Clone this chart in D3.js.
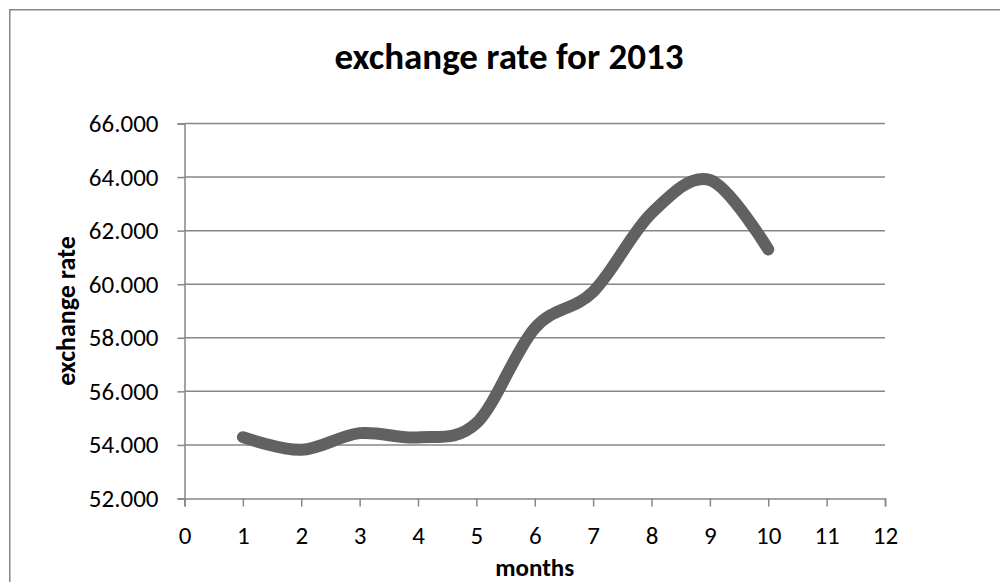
<!DOCTYPE html>
<html>
<head>
<meta charset="utf-8">
<script src="https://cdn.jsdelivr.net/npm/d3@7"></script>
<style>
  html, body { margin: 0; padding: 0; background: #fff; }
  svg { display: block; }
  text { font-family: Carlito, Calibri, Lato, "Open Sans", sans-serif; fill: #000; }
</style>
</head>
<body>
<svg id="chart" width="1000" height="582"></svg>
<script>
// Monthly exchange rate, 2013
const months = [1, 2, 3, 4, 5, 6, 7, 8, 9, 10];
const rates = [54.29, 53.82, 54.44, 54.28, 54.81, 58.36, 59.72, 62.65, 63.89, 61.30];
const xTicks = [0, 1, 2, 3, 4, 5, 6, 7, 8, 9, 10, 11, 12];
const yTicks = [52, 54, 56, 58, 60, 62, 64, 66];

const svg = d3.select("#chart");
const W = 1000, H = 582;
const margin = { left: 184.5, right: 1000 - 885, top: 123.5, bottom: 582 - 498.5 };

// outer chart frame
svg.append("rect")
  .attr("x", 9.75).attr("y", 9.75)
  .attr("width", 1100).attr("height", 1000)
  .attr("fill", "none").attr("stroke", "#868686").attr("stroke-width", 1.5);

const x = d3.scaleLinear().domain([0, 12]).range([margin.left, W - margin.right]);
const y = d3.scaleLinear().domain([52, 66]).range([H - margin.bottom, margin.top]);

// horizontal gridlines
svg.append("g")
  .selectAll("line")
  .data(yTicks.filter(v => v !== 52))
  .join("line")
  .attr("x1", x(0)).attr("x2", x(12))
  .attr("y1", d => y(d)).attr("y2", d => y(d))
  .attr("stroke", "#868686").attr("stroke-width", 1.5);

// y axis
const yAxis = svg.append("g")
  .attr("transform", `translate(${x(0)},0)`)
  .call(d3.axisLeft(y).tickValues(yTicks).tickFormat(d3.format(".3f")).tickSize(7).tickPadding(19));
// x axis
const xAxis = svg.append("g")
  .attr("transform", `translate(0,${y(52)})`)
  .call(d3.axisBottom(x).tickValues(xTicks).tickFormat(d3.format("d")).tickSize(8).tickPadding(20));

[yAxis, xAxis].forEach(g => {
  g.select(".domain").attr("stroke", "#868686").attr("stroke-width", 1.5);
  g.selectAll(".tick line").attr("stroke", "#868686").attr("stroke-width", 1.5);
  g.selectAll(".tick text")
    .attr("fill", "#000")
    .style("font-size", "25px")
    .style("font-family", "Carlito, Calibri, Lato, 'Open Sans', sans-serif");
});

// smoothed series line
const line = d3.line()
  .x((d, i) => x(months[i]))
  .y(d => y(d))
  .curve(d3.curveCardinal.tension(0));

svg.append("path")
  .datum(rates)
  .attr("d", line)
  .attr("fill", "none")
  .attr("stroke", "#616161")
  .attr("stroke-width", 12)
  .attr("stroke-linecap", "round")
  .attr("stroke-linejoin", "round");

// titles
svg.append("text")
  .attr("x", 509).attr("y", 69)
  .attr("text-anchor", "middle")
  .style("font-size", "37px").style("font-weight", "bold")
  .text("exchange rate for 2013");

svg.append("text")
  .attr("x", x(6)).attr("y", 576)
  .attr("text-anchor", "middle")
  .style("font-size", "25px").style("font-weight", "bold")
  .text("months");

svg.append("text")
  .attr("transform", `translate(75,${y(59)}) rotate(-90)`)
  .attr("text-anchor", "middle")
  .style("font-size", "26px").style("font-weight", "bold")
  .text("exchange rate");
</script>
</body>
</html>
